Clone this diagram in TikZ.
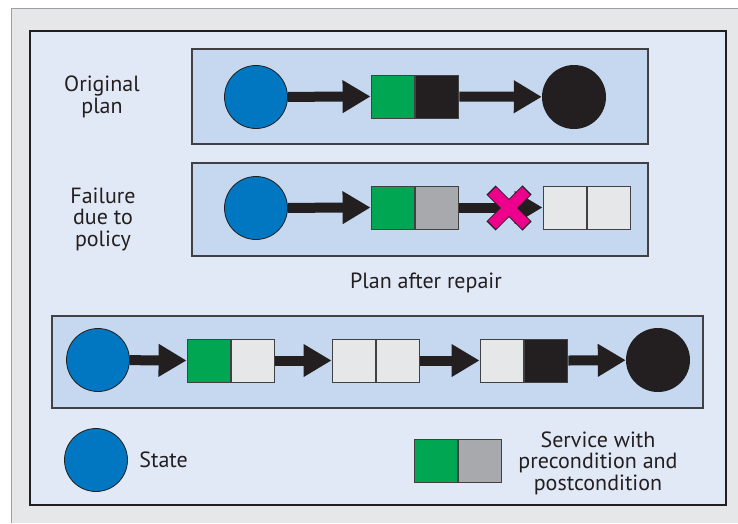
\documentclass[tikz,border=0pt]{standalone}
\usepackage{fontspec}
\setmainfont{PT Sans}
\usetikzlibrary{arrows.meta, positioning}
\definecolor{pagegrey}{HTML}{E6E7E8}
\definecolor{pageline}{HTML}{9D9FA2}
\definecolor{framefill}{HTML}{E2E9F6}
\definecolor{planfill}{HTML}{C5D8EF}
\definecolor{ink}{HTML}{231F20}
\definecolor{edgegrey}{HTML}{414042}
\definecolor{stateblue}{HTML}{0077C0}
\definecolor{pregreen}{HTML}{00A651}
\definecolor{postgrey}{HTML}{A7A9AC}
\definecolor{opengrey}{HTML}{E6E7E8}
\definecolor{cutpink}{HTML}{EC008C}

\tikzset{
  statenode/.style={circle, draw=ink, line width=0.8pt, fill=stateblue, minimum size=63pt, inner sep=0pt},
  goalnode/.style={circle, fill=ink, minimum size=64pt, inner sep=0pt},
  svchalf/.style={draw=edgegrey, line width=0.9pt, minimum width=43.5pt, minimum height=43pt, inner sep=0pt},
  svcpre/.style={svchalf, fill=pregreen},
  svcpost/.style={svchalf, fill=postgrey},
  svcopen/.style={svchalf, fill=opengrey},
  svcdone/.style={svchalf, fill=ink},
  link/.style={line width=10pt, ink, -{Triangle[length=28pt, width=31pt]}},
  planbox/.style={draw=edgegrey, line width=1.2pt, fill=planfill},
  caption/.style={align=center, text=ink, font=\fontsize{22}{21.5}\selectfont},
}

\begin{document}
\begin{tikzpicture}[x=1pt, y=-1pt]
  \useasboundingbox (0,0) rectangle (738,523);
  % Seite und Rahmen
  \fill[pagegrey] (11,8) rectangle (738,523);
  \draw[pageline, line width=1pt] (11,523) -- (11,8) -- (738,8);
  \draw[ink, line width=2.2pt, fill=framefill] (30,31) rectangle (726,505);
  \draw[planbox] (192,49) rectangle (648,144);
  \draw[planbox] (192,163) rectangle (648,256);
  \draw[planbox] (52,316) rectangle (703,408);

  % Originalplan
  \node[caption] (orig) at (102,97) {Original\\plan};
  \node[statenode] (o-start) at (256,97) {};
  \node[svcpre] (o-pre) at (392.75,96.5) {};
  \node[svcdone, right=0pt of o-pre] (o-post) {};
  \node[goalnode] (o-goal) at (574,97) {};
  \draw[link] (o-start) -- (o-pre.west);
  \draw[link] (o-post.east) -- (o-goal);

  % Fehler durch Policy
  \node[caption] (fail) at (103,219) {Failure\\due to\\policy};
  \node[statenode] (f-start) at (256,208) {};
  \node[svcpre] (f-pre) at (392.75,207.5) {};
  \node[svcpost, right=0pt of f-pre] (f-post) {};
  \node[svcopen] (f-next) at (564.75,207.5) {};
  \node[svcopen, right=0pt of f-next] (f-last) {};
  \draw[link] (f-start) -- (f-pre.west);
  \draw[link] (f-post.east) -- (f-next.west);
  \begin{scope}[shift={(509,208)}]
    \draw[ink, line width=13pt] (-18,-18) -- (18,18) (-18,18) -- (18,-18);
    \draw[cutpink, line width=11pt] (-17,-17) -- (17,17) (-17,17) -- (17,-17);
  \end{scope}

  % Plan nach Reparatur
  \node[caption] (repair) at (426,283) {Plan after repair};
  \node[statenode] (r-start) at (98,360) {};
  \node[svcpre] (r-pre1) at (208.75,360.5) {};
  \node[svcopen, right=0pt of r-pre1] (r-post1) {};
  \node[svcopen] (r-pre2) at (353.75,360.5) {};
  \node[svcopen, right=0pt of r-pre2] (r-post2) {};
  \node[svcopen] (r-pre3) at (501.75,360.5) {};
  \node[svcdone, right=0pt of r-pre3] (r-post3) {};
  \node[goalnode] (r-goal) at (658,360) {};
  \draw[link] (r-start) -- (r-pre1.west);
  \draw[link] (r-post1.east) -- (r-pre2.west);
  \draw[link] (r-post2.east) -- (r-pre3.west);
  \draw[link] (r-post3.east) -- (r-goal);

  % Legende
  \node[statenode] (l-state) at (96,460) {};
  \node[caption, right=8pt of l-state] (l-statetext) {State};
  \node[svcpre] (l-pre) at (435.75,460.5) {};
  \node[svcpost, right=0pt of l-pre] (l-post) {};
  \node[caption] (l-svctext) at (598,463) {Service with\\precondition and\\postcondition};
\end{tikzpicture}
\end{document}
